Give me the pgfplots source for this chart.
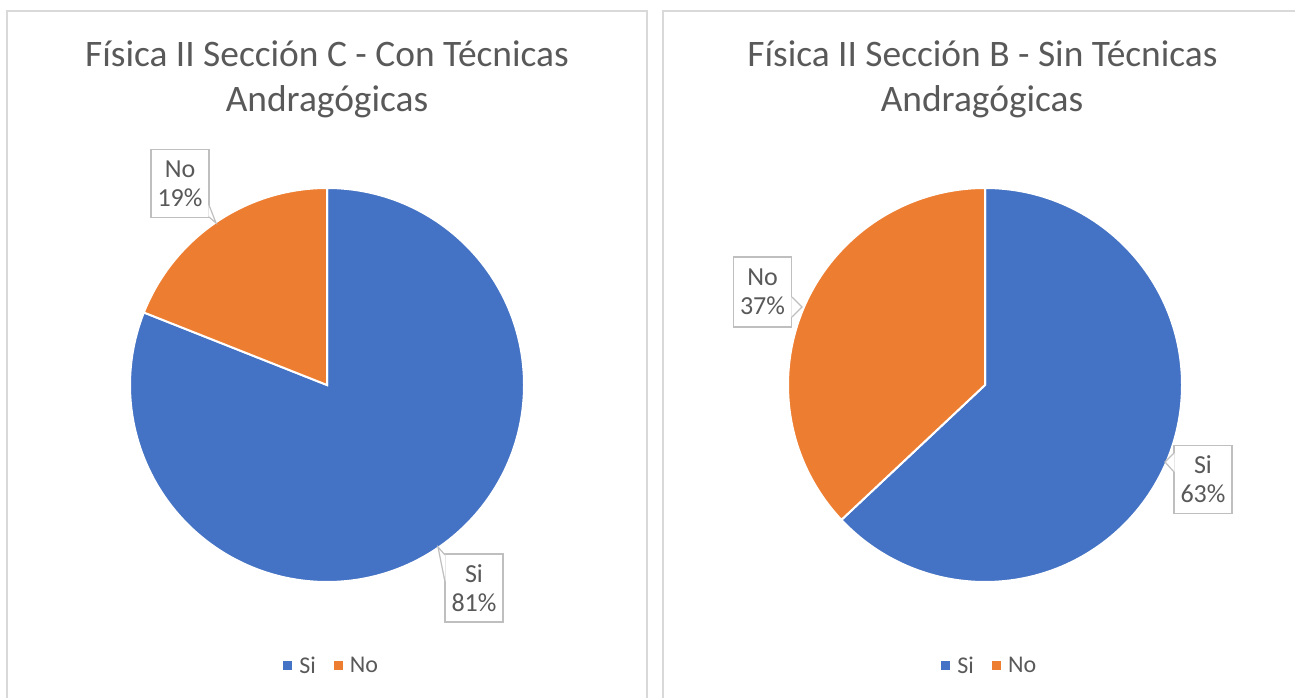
\documentclass[border=0pt]{standalone}
\usepackage{fontspec}
\setmainfont{Carlito}
\usepackage{pgfplots}
\usepackage{pgfplotstable}
\pgfplotsset{compat=1.18}

\definecolor{siblue}{HTML}{4472C4}
\definecolor{noorange}{HTML}{ED7D31}
\definecolor{txtgray}{HTML}{595959}
\definecolor{boxgray}{HTML}{BFBFBF}
\definecolor{framegray}{HTML}{D9D9D9}

% shares per section, in percent
\pgfplotstableread{
label value
Si 81
No 19
}\seccionC
\pgfplotstableread{
label value
Si 63
No 37
}\seccionB

\pgfplotsset{
  legend image code/.code={\fill[#1] (0pt,-4.5pt) rectangle (9pt,4.5pt);},
  pie/.style={
    hide axis, scale only axis, x=1pt, y=1pt,
    xmin=-200, xmax=200, ymin=-200, ymax=200,
    anchor=center, clip=false,
    legend columns=-1,
    legend style={at={(0.512,-0.2025)}, anchor=center, draw=none, fill=none,
      font=\fontsize{24}{28}\selectfont, text=txtgray,
      /tikz/every odd column/.append style={column sep=5pt},
      /tikz/every even column/.append style={column sep=16pt}},
  },
}
\tikzset{
  lbl/.style={draw=boxgray, line width=1.2pt, fill=white, align=center,
    minimum width=58pt, minimum height=68pt, inner sep=0pt,
    font=\fontsize{26}{29}\selectfont, text=txtgray},
  ttl/.style={anchor=base, font=\fontsize{37.4}{45}\selectfont, text=txtgray},
  slice/.style={draw=white, line width=2pt},
}

\pgfplotstablegetelem{0}{value}\of\seccionC
\pgfmathsetmacro\cutC{90-3.6*\pgfplotsretval}
\pgfplotstablegetelem{0}{value}\of\seccionB
\pgfmathsetmacro\cutB{90-3.6*\pgfplotsretval}

\begin{document}
\begin{tikzpicture}[x=1pt, y=1pt]
\useasboundingbox (0,0) rectangle (1295,698);

% chart frames
\draw[framegray, line width=1.5pt] (7,-5) -- (7,687) -- (647,687) -- (647,-5);
\draw[framegray, line width=1.5pt] (663,-5) -- (663,687) -- (1300,687);

% titles
\node[ttl] at (327,631) {Física II Sección C - Con Técnicas};
\node[ttl] at (327,586) {Andragógicas};
\node[ttl] at (982.5,631) {Física II Sección B - Sin Técnicas};
\node[ttl] at (982,586) {Andragógicas};

\begin{axis}[pie, at={(327,313)}]
  \fill[siblue, slice] (axis cs:0,0) -- (axis cs:0,197)
    arc[start angle=90, end angle=\cutC, radius=197pt] -- cycle;
  \fill[noorange, slice] (axis cs:0,0) -- (axis cs:{197*cos(\cutC)},{197*sin(\cutC)})
    arc[start angle=\cutC, end angle=-270, radius=197pt] -- cycle;
  \addlegendimage{fill=siblue, draw=none}
  \addlegendimage{fill=noorange, draw=none}
  \legend{Si, No}
  \node[lbl] at (axis cs:-147,201.5) {No\\19\%};
  \fill[white] (axis cs:-118.6,180) -- (axis cs:-111,162) -- (axis cs:-118.6,168.6) -- cycle;
  \draw[boxgray, line width=1.2pt] (axis cs:-118,180) -- (axis cs:-111,162) -- (axis cs:-118,168);
  \node[lbl] at (axis cs:147,-203) {Si\\81\%};
  \fill[white] (axis cs:118.6,-170) -- (axis cs:111,-162) -- (axis cs:118.6,-197) -- cycle;
  \draw[boxgray, line width=1.2pt] (axis cs:118,-170) -- (axis cs:111,-162) -- (axis cs:118,-197);
\end{axis}

\begin{axis}[pie, at={(985,313)}]
  \fill[siblue, slice] (axis cs:0,0) -- (axis cs:0,197)
    arc[start angle=90, end angle=\cutB, radius=197pt] -- cycle;
  \fill[noorange, slice] (axis cs:0,0) -- (axis cs:{197*cos(\cutB)},{197*sin(\cutB)})
    arc[start angle=\cutB, end angle=-270, radius=197pt] -- cycle;
  \addlegendimage{fill=siblue, draw=none}
  \addlegendimage{fill=noorange, draw=none}
  \legend{Si, No}
  \node[lbl, minimum height=70pt] at (axis cs:-222.5,93) {No\\37\%};
  \fill[white] (axis cs:-193.6,88) -- (axis cs:-183,78) -- (axis cs:-193.6,68) -- cycle;
  \draw[boxgray, line width=1.2pt] (axis cs:-193,88) -- (axis cs:-183,78) -- (axis cs:-193,68);
  \node[lbl] at (axis cs:218,-94.5) {Si\\63\%};
  \fill[white] (axis cs:189.6,-68) -- (axis cs:180,-77) -- (axis cs:189.6,-87) -- cycle;
  \draw[boxgray, line width=1.2pt] (axis cs:189,-68) -- (axis cs:180,-77) -- (axis cs:189,-87);
\end{axis}
\end{tikzpicture}
\end{document}
